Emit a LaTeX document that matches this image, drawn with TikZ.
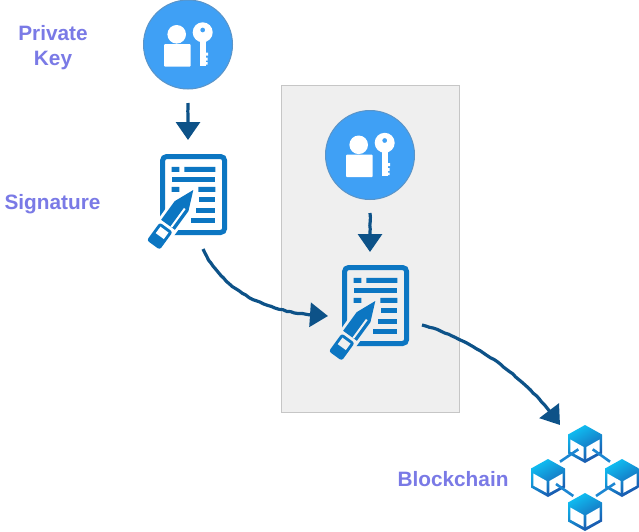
\documentclass[tikz,border=0pt]{standalone}
\usepackage{fontspec}
\setmainfont{Liberation Sans}
\usetikzlibrary{arrows.meta,decorations.pathmorphing}
\definecolor{keyblue}{HTML}{3FA0F5}
\definecolor{keyedge}{HTML}{5A94C8}
\definecolor{docblue}{HTML}{0C76C2}
\definecolor{arrowblue}{HTML}{0D5288}
\definecolor{labelblue}{HTML}{7A7AE6}
\definecolor{panelgrey}{HTML}{EFEFEF}
\definecolor{paneledge}{HTML}{C6C6C6}
\definecolor{cubecyan}{HTML}{0FBEF2}
\definecolor{cubedeep}{HTML}{1A55AC}
\definecolor{linkblue}{HTML}{1C86D2}
\pgfmathsetseed{7}
\tikzset{
  x=1pt,y=-1pt,
  keynode/.style={circle,draw=keyedge,line width=1pt,fill=keyblue,minimum size=89pt,inner sep=0pt},
  docnode/.style={draw=docblue,line width=5pt,rounded corners=4pt,minimum width=62pt,minimum height=76pt,inner sep=0pt},
  sketch/.style={draw=arrowblue,line width=3.2pt,-{Triangle[width=24pt,length=18pt]},
    decorate,decoration={random steps,segment length=4pt,amplitude=.4pt,post=lineto,post length=20pt}},
  label/.style={text=labelblue,font=\bfseries\fontsize{20.8}{25}\selectfont,align=center,inner sep=0pt},
  chainlink/.style={draw=linkblue,line width=2.6pt},
  pics/keyicon/.style={code={
    \fill[white,rounded corners=1pt] (-24,-0.5) rectangle (2.7,22.2);
    \fill[white] (-11.3,-10.2) circle[radius=9.3];
    \fill[white,even odd rule] (14.7,-12.2) circle[radius=10] (14.7,-14.5) circle[radius=2.5];
    \fill[white] (11.7,-4) rectangle (17.7,21.2);
    \fill[white] (17,8) rectangle (20,11) (17,13) rectangle (19.5,16) (17,17.5) rectangle (19.5,20);
  }},
  pics/docicon/.style={code={
    \fill[docblue] (-21.9,-27.7) rectangle (-14.3,-22.7) (-9.3,-27.7) rectangle (21.7,-22.7);
    \fill[docblue] (-21.9,-17.7) rectangle (21.7,-12.7);
    \fill[docblue] (-21.9,-7.7) rectangle (-14.3,-2.7) (4.7,-7.7) rectangle (21.7,-2.7);
    \fill[docblue] (5.7,2.7) rectangle (21.7,7.7);
    \fill[docblue] (2.4,13) rectangle (21.7,18);
    \fill[docblue] (-2.9,23) rectangle (21.7,28);
    \begin{scope}[shift={(-.3,-4.5)},x={(-.588pt,-.809pt)},y={(.809pt,-.588pt)}]
      \fill[#1] (-5,0) -- (20,-11.5) -- (71,-11) -- (71,11) -- (20,11.5) -- cycle;
      \fill[docblue] (0,0) -- (20,-8.5) -- (43,-8.5) -- (43,8.5) -- (20,8.5) -- cycle;
      \fill[#1] (20,3) -- (43,3) -- (43,5) -- (20,5) -- cycle;
      \fill[docblue,rounded corners=2.5pt] (46,-8) -- (68,-8) -- (68,8) -- (46,8) -- cycle;
      \fill[#1] (49,-5) -- (57,-5) -- (57,5) -- (49,5) -- cycle;
    \end{scope}
  }},
  pics/cube/.style={code={
    \shade[top color=cubecyan,bottom color=cubedeep,shading angle=30]
      (0,-19) -- (17,-9.5) -- (17,9.5) -- (0,19) -- (-17,9.5) -- (-17,-9.5) -- cycle;
    \fill[white] (-14.6,-4.5) -- (-1.4,3) -- (-1.4,14.8) -- (-14.6,7.6) -- cycle;
    \fill[white] (14.6,-4.5) -- (1.4,3) -- (1.4,14.8) -- (14.6,7.6) -- cycle;
  }},
}
\begin{document}
\begin{tikzpicture}
\useasboundingbox (0,0) rectangle (639,531);
\fill[white] (0,0) rectangle (639,531);
\node[draw=paneledge,fill=panelgrey,line width=.8pt,minimum width=178pt,minimum height=327pt,inner sep=0pt] (panel) at (370,248.5) {};
\node[keynode] (keyA) at (188,44.5) {};
\node[keynode] (keyB) at (370,155) {};
\pic at (keyA) {keyicon};
\pic at (keyB) {keyicon};
\node[docnode] (docA) at (193.6,194.5) {};
\node[docnode] (docB) at (375.6,305.5) {};
\pic at (docA) {docicon=white};
\pic at (docB) {docicon=panelgrey};
\node[label] (lblKey) at (53,47.5) {Private\\Key};
\node[label] (lblSig) at (52.5,204.5) {Signature};
\node[label] (lblChain) at (453,479) {Blockchain};
\node[minimum size=34pt,inner sep=0pt] (cubeT) at (585,444) {};
\node[minimum size=34pt,inner sep=0pt] (cubeL) at (548,478) {};
\node[minimum size=34pt,inner sep=0pt] (cubeR) at (622,478) {};
\node[minimum size=34pt,inner sep=0pt] (cubeB) at (585,512) {};
\pic at (cubeT) {cube};
\pic at (cubeL) {cube};
\pic at (cubeR) {cube};
\pic at (cubeB) {cube};
\draw[chainlink] ([shift={(-25,17.7)}]cubeT.center) -- ([shift={(-6.7,5.3)}]cubeT.center);
\draw[chainlink] ([shift={(7.7,5.3)}]cubeT.center) -- ([shift={(25,17.7)}]cubeT.center);
\draw[chainlink] ([shift={(8,6)}]cubeL.center) -- ([shift={(25.3,18)}]cubeL.center);
\draw[chainlink] ([shift={(-26,18)}]cubeR.center) -- ([shift={(-7,5.3)}]cubeR.center);
\coordinate (a1s) at (188,103);
\coordinate (a1e) at (188,140);
\coordinate (a2s) at (370,213);
\coordinate (a2e) at (370,252);
\coordinate (a3s) at (203,249);
\coordinate (a3e) at (328,316);
\coordinate (a4s) at (422,325);
\coordinate (a4e) at (560,425);
\draw[sketch] (a1s) -- (a1e);
\draw[sketch] (a2s) -- (a2e);
\draw[sketch] (a3s) .. controls (222,290) and (265,314) .. (a3e);
\draw[sketch] (a4s) .. controls (470,338) and (525,375) .. (a4e);
\end{tikzpicture}
\end{document}
